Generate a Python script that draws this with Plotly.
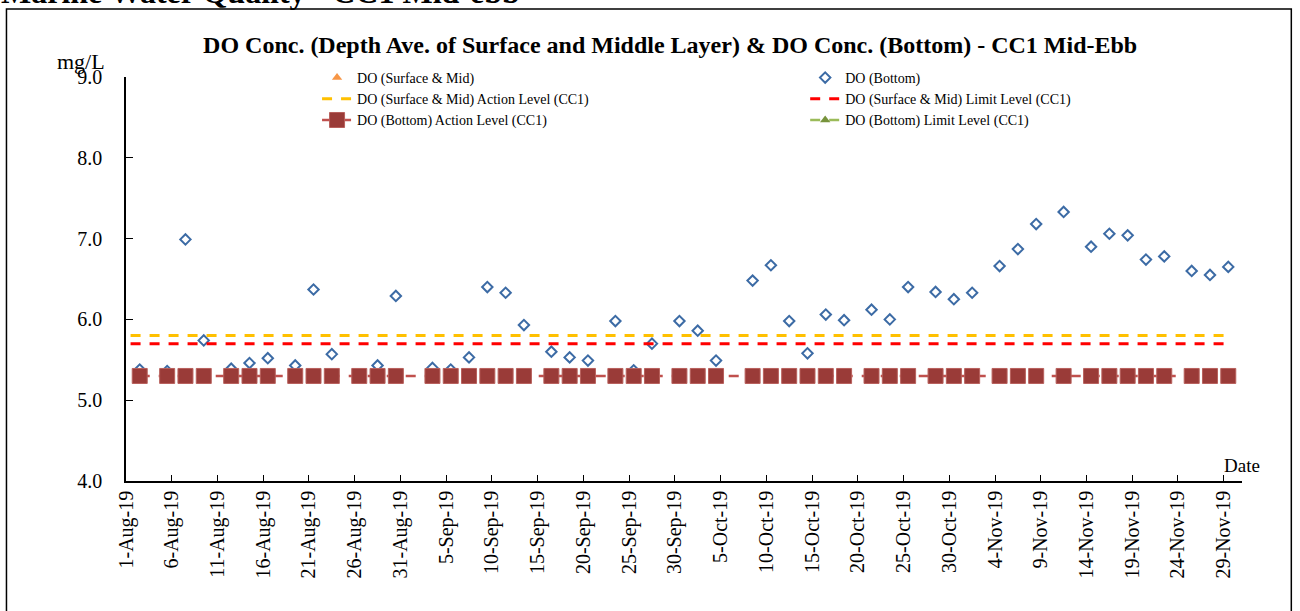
import plotly.graph_objects as go
import pandas as pd

# ---------------- data ----------------
sample_dates = ["2019-08-02", "2019-08-05", "2019-08-07", "2019-08-09", "2019-08-12", "2019-08-14",
                "2019-08-16", "2019-08-19", "2019-08-21", "2019-08-23", "2019-08-26", "2019-08-28",
                "2019-08-30", "2019-09-03", "2019-09-05", "2019-09-07", "2019-09-09", "2019-09-11",
                "2019-09-13", "2019-09-16", "2019-09-18", "2019-09-20", "2019-09-23", "2019-09-25",
                "2019-09-27", "2019-09-30", "2019-10-02", "2019-10-04", "2019-10-08", "2019-10-10",
                "2019-10-12", "2019-10-14", "2019-10-16", "2019-10-18", "2019-10-21", "2019-10-23",
                "2019-10-25", "2019-10-28", "2019-10-30", "2019-11-01", "2019-11-04", "2019-11-06",
                "2019-11-08", "2019-11-11", "2019-11-14", "2019-11-16", "2019-11-18", "2019-11-20",
                "2019-11-22", "2019-11-25", "2019-11-27", "2019-11-29"]

do_bottom = [5.38, 5.36, 6.99, 5.74, 5.39, 5.46, 5.52, 5.43, 6.37, 5.57, 5.31, 5.43,
             6.29, 5.40, 5.38, 5.53, 6.40, 6.33, 5.93, 5.60, 5.53, 5.49, 5.98, 5.37,
             5.70, 5.98, 5.86, 5.49, 6.48, 6.67, 5.98, 5.58, 6.06, 5.99, 6.12, 6.00,
             6.40, 6.34, 6.25, 6.33, 6.66, 6.87, 7.18, 7.33, 6.90, 7.06, 7.04, 6.74,
             6.78, 6.60, 6.55, 6.65]

do_surface_mid = [None] * len(sample_dates)          # not plotted in the reference

level_dates = ["2019-08-01", "2019-11-29"]
sm_action_level = [5.8, 5.8]
sm_limit_level = [5.7, 5.7]
bottom_action_level = [5.3] * len(sample_dates)
bottom_limit_level = [None] * len(sample_dates)

x_tick_dates = pd.date_range("2019-08-01", "2019-11-29", freq="5D")
y_ticks = [4.0, 5.0, 6.0, 7.0, 8.0, 9.0]

# Excel-style date axis: each value sits in the middle of its day
half_day = pd.Timedelta(hours=12)
xs = pd.to_datetime(sample_dates) + half_day
xl = pd.to_datetime(level_dates) + half_day

FONT = "Liberation Serif, Times New Roman, serif"

fig = go.Figure()
fig.add_trace(go.Scatter(x=xs, y=do_surface_mid, mode="markers", name="DO (Surface & Mid)",
                         legend="legend",
                         marker=dict(symbol="triangle-up", size=9, color="#F79646")))
fig.add_trace(go.Scatter(x=xs, y=do_bottom, mode="markers", name="DO (Bottom)",
                         legend="legend2",
                         marker=dict(symbol="diamond-open", size=8, color="#3C6BA5",
                                     line=dict(width=2, color="#3C6BA5"))))
fig.add_trace(go.Scatter(x=xl, y=sm_action_level, mode="lines",
                         name="DO (Surface & Mid) Action Level (CC1)", legend="legend",
                         line=dict(color="#FFC000", width=3, dash="10px,9px")))
fig.add_trace(go.Scatter(x=xl, y=sm_limit_level, mode="lines",
                         name="DO (Surface & Mid) Limit Level (CC1)", legend="legend2",
                         line=dict(color="#FF0000", width=3, dash="10px,9px")))
fig.add_trace(go.Scatter(x=xs, y=bottom_action_level, mode="lines+markers",
                         name="DO (Bottom) Action Level (CC1)", legend="legend",
                         line=dict(color="#C0504D", width=2.5, dash="10px,9px"),
                         marker=dict(symbol="square", size=15, color="#9A3B38",
                                     line=dict(width=1, color="#B8605C"))))
fig.add_trace(go.Scatter(x=xs, y=bottom_limit_level, mode="lines+markers",
                         name="DO (Bottom) Limit Level (CC1)", legend="legend2",
                         line=dict(color="#9BBB59", width=2.5, dash="10px,9px"),
                         marker=dict(symbol="triangle-up", size=9, color="#77933C")))

# body margin is removed below, so figure pixels == page pixels
OFF = 0
W, H = 1300, 611
plot_left, plot_right, plot_top, plot_bottom = 126, 1241.7, 77, 480.7
L = plot_left - OFF
T = plot_top - OFF
pw = plot_right - plot_left
ph = plot_bottom - plot_top
R = W - L - pw
B = H - T - ph

def px_x(px):
    return (px - plot_left) / pw

def px_y(py):
    return 1 - (py - plot_top) / ph

legend_common = dict(orientation="v", yanchor="top", xanchor="left",
                     font=dict(size=14, family=FONT, color="black"),
                     bgcolor="rgba(0,0,0,0)", borderwidth=0, tracegroupgap=0,
                     traceorder="normal")

fig.update_layout(
    width=W, height=H,
    margin=dict(l=L, r=R, t=T, b=B, pad=0, autoexpand=False),
    paper_bgcolor="white", plot_bgcolor="white",
    font=dict(family=FONT, color="black"),
    title=dict(text="<b>DO Conc. (Depth Ave. of Surface and Middle Layer) & DO Conc. (Bottom) - CC1 Mid-Ebb</b>",
               font=dict(size=24, family=FONT, color="black"),
               x=px_x(670), xref="paper", xanchor="center",
               y=1 - (45 - OFF) / H, yref="container", yanchor="middle"),
    showlegend=True,
    legend=dict(x=px_x(317), y=px_y(62), **legend_common),
    legend2=dict(x=px_x(805), y=px_y(62), **legend_common),
    xaxis=dict(type="date", automargin=False,
               range=[pd.Timestamp("2019-08-01"), pd.Timestamp("2019-12-01")],
               tickmode="array", tickvals=x_tick_dates,
               ticktext=[f"{d.day}-{d.strftime('%b')}-{d.strftime('%y')}" for d in x_tick_dates],
               tickangle=-90, ticks="inside", ticklen=6, tickcolor="black", tickwidth=1,
               tickfont=dict(size=20, family=FONT, color="black"),
               showline=True, linecolor="black", linewidth=1.5,
               showgrid=False, zeroline=False),
    yaxis=dict(range=[4.0, 9.0], automargin=False,
               tickmode="array", tickvals=y_ticks,
               ticktext=[f"{v:.1f}" for v in y_ticks],
               ticks="inside", ticklen=7, tickcolor="black", tickwidth=1,
               tickfont=dict(size=20, family=FONT, color="black"),
               ticklabelstandoff=18,
               showline=True, linecolor="black", linewidth=1.5,
               showgrid=False, zeroline=False),
)

# outer chart border
fig.add_shape(type="rect", xref="paper", yref="paper",
              x0=px_x(6.5), x1=px_x(1291), y0=px_y(640), y1=px_y(9),
              line=dict(color="black", width=1.5), fillcolor="rgba(0,0,0,0)", layer="below")

# page heading partly cut off at the top
fig.add_annotation(text="<b>Marine Water Quality - CC1 Mid-ebb</b>", xref="paper", yref="paper",
                   x=px_x(-1), y=px_y(12), xanchor="left", yanchor="bottom", showarrow=False,
                   font=dict(size=32, family=FONT, color="black"))

fig.add_annotation(text="mg/L", xref="paper", yref="paper", x=px_x(81), y=px_y(62),
                   xanchor="center", yanchor="middle", showarrow=False,
                   font=dict(size=22, family=FONT, color="black"))
fig.add_annotation(text="Date", xref="paper", yref="paper", x=px_x(1242), y=px_y(465),
                   xanchor="center", yanchor="middle", showarrow=False,
                   font=dict(size=19, family=FONT, color="black"))

fig.write_html("out.html", config={"displayModeBar": False},
               post_script="document.body.style.margin='0';document.body.style.overflow='hidden';")
